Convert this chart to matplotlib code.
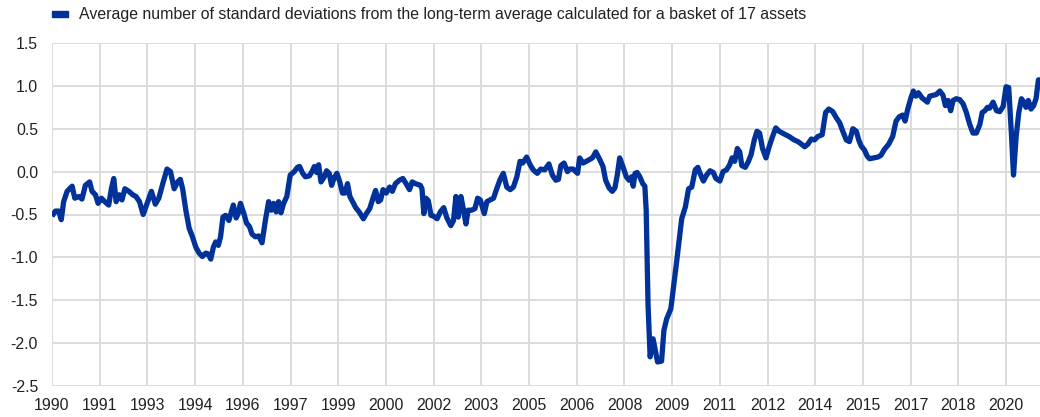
import matplotlib
matplotlib.use("Agg")
import matplotlib.pyplot as plt
from matplotlib.patches import Rectangle

# months since Jan 1990 and the index value
months = [0, 1.3, 2.5, 3.5, 4.4, 5.7, 7.6, 8.6, 10.1, 11.3, 12.6, 14.2, 15.1, 16.4, 17.4, 18.6,
          19.9, 21.4, 22.4, 23.3, 24.2, 25.4, 26.4, 27.5, 29.0, 30.5, 31.7, 33.0, 34.4, 35.9,
          37.5, 39.0, 40.3, 41.8, 43.4, 44.7,
          46.1, 47.4, 48.4, 49.3, 50.5, 51.75, 53.0, 54.25, 55.5, 56.75, 58.0, 58.9, 59.9,
          60.9, 61.75, 62.75, 63.6, 64.5, 65.5, 66.75, 68.4, 69.5, 70.25, 71.1, 72.4, 73.4,
          74.5, 75.5, 76.75, 78.0, 79.25, 80.5, 81.75, 82.75, 83.6, 84.6, 85.5, 86.4, 87.4,
          88.6, 89.9, 91.4, 92.6,
          93.4, 94.6, 95.6, 97.1, 98.1, 99.0, 99.9, 100.6, 101.5, 102.75, 103.6, 104.6, 105.5,
          106.5, 107.5, 108.6, 109.6, 110.6, 111.5, 112.4, 113.4, 114.6, 115.9, 117.5, 118.6,
          119.9, 121.1, 122.1, 123.1, 124.0, 124.9, 126.1, 127.4, 128.4, 129.6, 131.1, 132.4,
          133.6, 134.9, 135.9, 137.1, 139.0,
          139.6, 140.3, 141.1, 142.0, 143.0, 144.0, 145.3, 146.5, 147.8, 149.0, 150.5, 151.5,
          152.4, 153.3, 154.3, 155.3, 156.2, 157.0, 158.3, 159.6, 160.6, 161.6, 163.1, 164.1,
          165.3, 166.6, 167.8, 169.1, 170.3, 171.6, 172.9, 174.1, 175.4, 176.6, 177.6, 179.1,
          180.4, 181.6, 183.1, 184.4, 185.9, 187.5,
          188.8, 190.1, 191.1, 192.0, 193.2, 194.5, 195.4, 196.6, 198.3, 199.1, 200.4, 201.6,
          203.9, 205.2, 206.7, 207.9, 208.9, 210.2, 211.4, 212.4, 213.3, 214.2, 215.4, 216.7,
          217.7, 218.7, 219.3, 220.0, 220.8, 221.8, 222.9, 223.7, 224.2, 224.9, 225.7, 226.8,
          228.5, 230.0, 230.9, 231.9, 233.5, 235.5, 237.6,
          239.0, 240.2, 241.4, 242.7, 243.7, 244.5, 245.8, 247.0, 248.3, 249.5, 250.5, 252.0,
          253.2, 254.5, 255.7, 256.6, 257.6, 258.6, 259.5, 260.3, 261.6, 262.8, 263.8, 265.0,
          266.0, 267.0, 268.1, 269.4, 270.6, 271.9, 273.1, 274.4, 276.2, 278.1, 280.0,
          281.5, 282.8, 284.0, 285.2, 286.5, 287.7, 289.0, 290.6, 291.9, 293.1, 294.6, 295.9,
          297.2, 298.4, 299.7, 300.9, 302.2, 303.5, 304.4, 305.3, 306.6, 307.6, 308.5, 310.0,
          311.6, 312.8, 314.1, 315.7, 317.2, 318.5, 319.7, 321.0, 321.9, 322.9, 324.1, 325.0,
          326.0, 326.9, 328.3,
          329.5, 330.3, 331.2, 332.4, 333.7, 335.0, 336.2, 337.1, 338.1, 339.1, 340.0, 341.2,
          342.5, 343.8, 345.0, 346.3, 347.5, 348.8, 350.1, 351.0, 352.0, 353.0, 353.8, 355.1,
          356.4, 357.6, 358.9, 360.0, 361.0, 362.0, 362.8, 363.8, 364.8, 365.8, 366.7, 367.5,
          368.4, 369.4, 370.4, 371.3, 372.2, 372.8]

values = [-0.52, -0.46, -0.46, -0.56, -0.35, -0.23, -0.17, -0.31, -0.29, -0.32, -0.16, -0.12,
          -0.23, -0.27, -0.37, -0.31, -0.35, -0.39, -0.20, -0.08, -0.35, -0.27, -0.33, -0.20,
          -0.23, -0.27, -0.29, -0.35, -0.50, -0.37, -0.23, -0.38, -0.31, -0.14, 0.03, 0.00,
          -0.20, -0.12, -0.09, -0.20, -0.45, -0.66, -0.76, -0.88, -0.95, -0.99, -0.95, -0.96,
          -1.02, -0.88, -0.82, -0.86, -0.76, -0.53, -0.51, -0.57, -0.39, -0.54, -0.49, -0.37,
          -0.49, -0.60, -0.64, -0.73, -0.76, -0.75, -0.83, -0.57, -0.35, -0.45, -0.37, -0.47,
          -0.35, -0.48, -0.37, -0.29, -0.04, 0.00, 0.05,
          0.06, -0.02, -0.06, -0.05, 0.00, 0.06, -0.01, 0.08, -0.12, -0.06, 0.01, -0.02, -0.16,
          -0.07, -0.02, -0.12, -0.25, -0.25, -0.14, -0.29, -0.35, -0.42, -0.47, -0.55, -0.49,
          -0.43, -0.31, -0.22, -0.35, -0.33, -0.21, -0.25, -0.18, -0.23, -0.14, -0.10, -0.08,
          -0.14, -0.21, -0.12, -0.14, -0.16,
          -0.20, -0.49, -0.31, -0.34, -0.51, -0.52, -0.55, -0.47, -0.42, -0.54, -0.63, -0.57,
          -0.29, -0.53, -0.29, -0.45, -0.61, -0.45, -0.45, -0.43, -0.31, -0.33, -0.49, -0.35,
          -0.33, -0.31, -0.20, -0.09, -0.02, -0.18, -0.21, -0.18, -0.06, 0.12, 0.10, 0.17,
          0.08, 0.02, -0.02, 0.03, 0.02, 0.09,
          -0.04, -0.10, -0.09, 0.07, 0.10, 0.00, 0.03, 0.03, -0.02, 0.16, 0.10, 0.12,
          0.16, 0.23, 0.14, 0.06, -0.10, -0.19, -0.23, -0.19, -0.04, 0.16, 0.06, -0.06,
          -0.10, -0.06, -0.17, -0.02, -0.01, -0.06, -0.14, -0.17, -0.45, -1.55, -2.16, -1.95,
          -2.22, -2.21, -1.85, -1.72, -1.60, -1.10, -0.55,
          -0.41, -0.20, -0.18, 0.02, 0.05, -0.02, -0.11, -0.04, 0.01, -0.01, -0.08, -0.11,
          0.00, 0.02, 0.08, 0.16, 0.12, 0.27, 0.23, 0.07, 0.05, 0.12, 0.20, 0.37,
          0.47, 0.45, 0.27, 0.16, 0.29, 0.41, 0.51, 0.47, 0.44, 0.41, 0.37,
          0.35, 0.32, 0.29, 0.32, 0.38, 0.37, 0.41, 0.43, 0.69, 0.73, 0.70, 0.63,
          0.57, 0.47, 0.37, 0.35, 0.50, 0.47, 0.37, 0.30, 0.25, 0.18, 0.15, 0.16,
          0.17, 0.19, 0.26, 0.32, 0.41, 0.59, 0.64, 0.66, 0.59, 0.73, 0.86, 0.94,
          0.88, 0.92, 0.86,
          0.83, 0.81, 0.88, 0.89, 0.90, 0.94, 0.89, 0.77, 0.83, 0.71, 0.83, 0.85,
          0.84, 0.79, 0.69, 0.55, 0.45, 0.45, 0.55, 0.69, 0.71, 0.75, 0.74, 0.81,
          0.71, 0.70, 0.76, 0.99, 0.98, 0.45, -0.04, 0.41, 0.69, 0.85, 0.81, 0.75,
          0.83, 0.73, 0.77, 0.85, 1.07, 1.07]

tick_years = [1990.0, 1991.5, 1993.0, 1994.5, 1996.0, 1997.5, 1999.0, 2000.5, 2002.0, 2003.5,
              2005.0, 2006.5, 2008.0, 2009.5, 2011.0, 2012.5, 2014.0, 2015.5, 2017.0, 2018.5,
              2020.0]
tick_labels = ["1990", "1991", "1993", "1994", "1996", "1997", "1999", "2000", "2002", "2003",
               "2005", "2006", "2008", "2009", "2011", "2012", "2014", "2015", "2017", "2018",
               "2020"]
y_ticks = [-2.5, -2.0, -1.5, -1.0, -0.5, 0.0, 0.5, 1.0, 1.5]
legend_label = "Average number of standard deviations from the long-term average calculated for a basket of 17 assets"

plt.rcParams['font.family'] = ['Liberation Sans', 'DejaVu Sans']
BLUE = '#003299'
TXT = '#222222'
GRID = '#dcdcdc'

x = [1990 + m / 12.0 for m in months]

fig = plt.figure(figsize=(10.4, 4.17), dpi=100)
ax = fig.add_axes([52 / 1040, 1 - 386 / 417, 1 - 52 / 1040, (386 - 43) / 417])

ax.plot(x, values, color=BLUE, lw=3.8, solid_joinstyle='round', solid_capstyle='butt', zorder=3)

ax.set_xlim(1990, 1990 + 372.8 / 12)
ax.set_ylim(-2.5, 1.5)
ax.set_xticks(tick_years)
ax.set_xticklabels(tick_labels)
ax.set_yticks(y_ticks)
ax.set_yticklabels([f"{v:.1f}" for v in y_ticks])
ax.grid(True, color=GRID, lw=1.4, zorder=0)
for s in ax.spines.values():
    s.set_visible(False)
ax.tick_params(length=0, labelsize=11.4, colors=TXT)
ax.tick_params(axis='x', pad=9)
ax.tick_params(axis='y', pad=10)
ax.set_axisbelow(True)

fig.patches.append(Rectangle((52 / 1040, 1 - 17 / 417), 16 / 1040, 6 / 417,
                             transform=fig.transFigure, color=BLUE))
fig.text(79 / 1040, 1 - 14 / 417, legend_label, ha='left', va='center',
         fontsize=11.4, color=TXT)

fig.savefig("out.png", dpi=100)
